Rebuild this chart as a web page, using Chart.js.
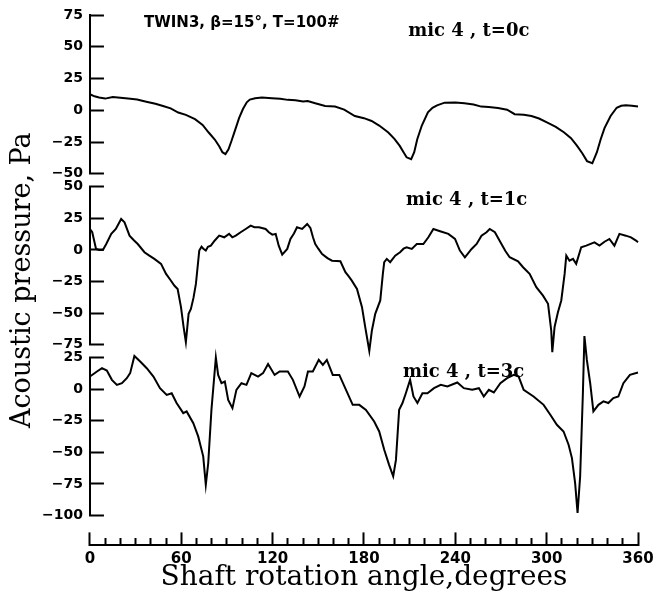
<!DOCTYPE html>
<html>
<head>
<meta charset="utf-8">
<script src="https://cdn.jsdelivr.net/npm/chart.js@4.4.1/dist/chart.umd.min.js"></script>
<style>
    html, body { margin: 0; padding: 0; background: #fff; }
    #wrap { width: 654px; height: 604px; }
</style>
</head>
<body>
<div id="wrap"><canvas id="charts"></canvas></div>
<script>
// mic 4, t=0c
const angle0 = [0, 3, 6, 10, 15, 20, 25, 31, 37, 43, 48, 53, 58, 63, 69, 74, 78, 82, 85, 87, 89, 91, 93, 95.5, 98, 100.5, 103, 105, 108.5, 113, 119.5, 125, 130, 135, 140, 143, 148, 154.5, 161, 167, 174, 180, 185, 190, 196, 200, 203.5, 206, 208, 211, 213, 215, 218, 222, 225, 228, 233, 240, 246, 252, 257, 262, 268, 274, 279, 285, 290, 295, 300.5, 306, 311.5, 316, 320, 323.5, 326.5, 330, 333, 335.5, 338, 342, 346, 349, 352, 356, 360];
const pressure0 = [12.6, 11, 10, 9.2, 10.5, 9.8, 9.2, 8.5, 6.8, 5.2, 3.4, 1.5, -1.8, -3.6, -7, -11.5, -17.5, -23, -28.5, -33, -34.5, -30.7, -24, -15, -6, 1, 6.3, 8.4, 9.4, 10, 9.4, 9, 8.2, 7.9, 7, 7.3, 5.5, 3.4, 2.9, 0.5, -4.5, -6.2, -8.4, -12, -17.5, -22.5, -28, -33, -37, -38.5, -33, -22.8, -12, -1.6, 2, 3.9, 6, 6.2, 5.5, 4.5, 2.9, 2.5, 1.8, 0.5, -3.1, -3.5, -4.5, -6.5, -9.7, -13, -17.5, -22, -28, -34, -40, -41.7, -33, -22.8, -14, -4.5, 2, 3.5, 3.9, 3.5, 2.9];

// mic 4, t=1c
const angle1 = [0, 1.5, 4, 6, 8.5, 10.7, 14, 17, 20.5, 22.7, 26, 29, 31.4, 35.8, 39, 42.3, 46.7, 50, 53, 55.4, 57.6, 59.8, 61.5, 63, 64.8, 66.3, 68, 69.6, 71.8, 73.3, 74.5, 76.1, 77.5, 79.4, 82, 84.9, 88.2, 91.4, 93.5, 95.8, 99, 102.3, 105.6, 108, 111, 115.4, 117.5, 119.8, 122, 124, 126.3, 129.6, 131.7, 134, 136, 139.4, 142.7, 144.8, 146.5, 148, 150, 152.5, 156, 159, 162, 164.5, 167.8, 170, 172, 175.4, 178.7, 180.8, 183.5, 185.2, 187.4, 190.7, 192.4, 193.3, 195, 197.2, 200.5, 203.7, 206, 208, 211.4, 214.7, 219, 222.3, 225.6, 230, 235.4, 239.8, 243, 246.3, 250.7, 254, 257.2, 260.5, 262.6, 266, 270.3, 273, 275.7, 281.2, 284.5, 288.8, 293.2, 297.6, 300.9, 303, 303.7, 305.2, 307.4, 309.6, 311.8, 312.9, 315, 317.3, 319.4, 322.7, 326, 331.4, 334.7, 338, 341.2, 344.5, 347.8, 352, 355.4, 358.7, 360];
const pressure1 = [16.6, 14, 0.8, 0, 0, 4.7, 12.7, 16.6, 24.5, 21.9, 11.3, 7.5, 4.7, -1.8, -4.5, -7.1, -11, -19, -24, -28.2, -30.9, -45.3, -61, -73, -50.6, -46.7, -38, -26.9, -0.5, 2.6, 1, -0.5, 2.5, 3.4, 7.5, 11.3, 10, 12.7, 10, 11.3, 14, 16.6, 19.2, 18, 17.9, 16.6, 14, 12.1, 12.7, 3.4, -3.7, 0.8, 8.7, 13, 17.9, 16.6, 20.6, 17.4, 10, 4.7, 1, -3.2, -6.5, -8.5, -8.8, -9, -17.6, -21, -24.3, -30.9, -45.3, -61, -80, -63.8, -50.6, -40, -19, -9.7, -7.1, -9.7, -4.5, -1.8, 1, 2.1, 0.8, 4.7, 4.7, 10, 16.6, 14.8, 12.7, 8.7, -0.5, -5.8, 0.8, 4.7, 11.3, 14, 16.6, 14, 4.7, -1, -5.8, -9, -13.7, -19, -29.5, -36.2, -42.7, -63.8, -81, -61, -49.3, -40, -19, -4.5, -8.5, -7.1, -11, 2.1, 3.4, 6, 3.4, 6.5, 8.7, 3.4, 12.7, 11.3, 10, 7.4, 6];

// mic 4, t=3c
const angle3 = [0, 4.6, 7.9, 11.1, 14.4, 17.7, 21, 24.2, 26.4, 29.2, 33, 37.3, 41.7, 46, 50.4, 53.7, 56.9, 61.3, 63.5, 67.9, 71.1, 74.4, 76.1, 77.7, 79.8, 82.7, 84.2, 86.4, 88.6, 90.8, 93.6, 96.2, 99.5, 102.8, 106, 110.4, 113.7, 117, 121.3, 124.6, 130, 133.3, 137.7, 140.9, 143.2, 146.4, 150.3, 153, 155.6, 159.5, 163.8, 168.2, 172.6, 176.9, 181.3, 186.7, 190, 193.3, 196.5, 199.2, 201, 203.1, 205.3, 207.5, 210.3, 212.5, 215.1, 218.4, 221.7, 226, 230.4, 234.8, 241.3, 245.6, 251.1, 255.5, 258.7, 262, 265.3, 269.6, 274, 278.4, 281.6, 284.9, 291.4, 298, 302.4, 306.7, 311.1, 314.4, 316.6, 318.7, 320.3, 322, 323.8, 324.8, 326.4, 328.6, 330.7, 334, 337.3, 340.5, 343.8, 347.1, 350.4, 354.7, 360];
const pressure3 = [10, 14, 16.6, 14.8, 7.4, 3.4, 4.7, 8.7, 12.7, 26.3, 21.9, 16.6, 10, 0.8, -4.5, -3.2, -11, -19, -17.6, -26.9, -37.4, -53.2, -75.7, -58.5, -16.4, 25, 11.3, 4.7, 6, -8.5, -15, -0.5, 4.7, 3.4, 12.7, 10, 12.7, 20, 11.3, 14, 14, 7.4, -5.8, 2.1, 14, 14, 23.2, 19.2, 23.2, 11.3, 11.3, -0.5, -12.4, -12.4, -16.4, -25.6, -33.5, -48, -59.9, -69, -56, -16.4, -11, -3.2, 7.4, -5.8, -11, -3.2, -3.2, 0.8, 3.4, 2.1, 5.3, 0.8, -0.5, 0.8, -5.8, -0.5, -2.6, 4.7, 8.7, 11.3, 10, -0.5, -5.8, -12.4, -20.3, -28.2, -33.5, -44, -54.6, -74.4, -98, -69, -3.2, 42, 23.2, 4.7, -17.6, -12.4, -9.7, -11, -7.1, -5.8, 4.7, 11.3, 13.2];

const xMajorTicks = [0, 60, 120, 180, 240, 300, 360];
const runLabel = 'TWIN3, \u03b2=15\u00b0, T=100#';
const micLabels = ['mic 4 , t=0c', 'mic 4 , t=1c', 'mic 4 , t=3c'];

const toPoints = (xs, ys) => xs.map((x, i) => ({ x: x, y: ys[i] }));
const minus = (v) => String(v).replace('-', '\u2212');

const panelAxis = (min, max, weight, stackWeight) => ({
    type: 'linear',
    position: 'left',
    stack: 'panels',
    stackWeight: stackWeight,
    weight: weight,
    min: min,
    max: max,
    border: { display: true, color: '#000', width: 2 },
    grid: { display: true, drawOnChartArea: false, drawTicks: true, tickLength: -14, tickWidth: 2, tickColor: '#000' },
    ticks: {
        stepSize: 25, autoSkip: false, padding: 21, color: '#000',
        font: { family: "'DejaVu Sans'", weight: 'bold', size: 14 },
        callback: minus
    },
    // the tick padding would otherwise be pushed into the chart margins
    afterFit: (s) => { s.paddingTop = 0; s.paddingBottom = 0; }
});
const gapAxis = (weight, stackWeight) => ({
    type: 'linear', position: 'left', stack: 'panels',
    stackWeight: stackWeight, weight: weight, display: false
});

const panelText = {
    id: 'panelText',
    afterDatasetsDraw(chart) {
        const { ctx, scales } = chart;
        ctx.save();
        ctx.fillStyle = '#000';
        ctx.textBaseline = 'middle';
        ctx.textAlign = 'left';
        ctx.font = "bold 15px 'DejaVu Sans'";
        ctx.fillText(runLabel, scales.x.getPixelForValue(35.5), scales.y0.getPixelForValue(68.7));
        ctx.font = "bold 18px 'DejaVu Serif'";
        ctx.fillText(micLabels[0], scales.x.getPixelForValue(209), scales.y0.getPixelForValue(62.4));
        ctx.fillText(micLabels[1], scales.x.getPixelForValue(207.6), scales.y1.getPixelForValue(38.9));
        ctx.fillText(micLabels[2], scales.x.getPixelForValue(205.6), scales.y3.getPixelForValue(13.1));
        ctx.restore();
    }
};

const line = (label, xs, ys, axisId) => ({
    label: label,
    data: toPoints(xs, ys),
    yAxisID: axisId,
    borderColor: '#000',
    borderWidth: 2,
    pointRadius: 0,
    fill: false,
    tension: 0,
    clip: false
});

const config = {
    type: 'line',
    data: {
        datasets: [
            line(micLabels[0], angle0, pressure0, 'y0'),
            line(micLabels[1], angle1, pressure1, 'y1'),
            line(micLabels[2], angle3, pressure3, 'y3')
        ]
    },
    options: {
        responsive: true,
        maintainAspectRatio: false,
        animation: false,
        devicePixelRatio: 1,
        layout: { padding: { top: 15, left: 0, right: 16, bottom: 0 } },
        plugins: { legend: { display: false }, tooltip: { enabled: false } },
        scales: {
            x: {
                type: 'linear',
                position: 'bottom',
                min: 0,
                max: 360,
                border: { display: true, color: '#000', width: 2 },
                grid: {
                    display: true, drawOnChartArea: false, drawTicks: true,
                    tickLength: -13, tickWidth: 2, tickColor: '#000',
                    tickBorderDash: (c) => (c.tick && !xMajorTicks.includes(c.tick.value)) ? [8, 40] : []
                },
                ticks: {
                    stepSize: 10, autoSkip: false, maxRotation: 0, padding: 18, color: '#000',
                    font: { family: "'DejaVu Sans'", weight: 'bold', size: 15 },
                    callback: (v) => xMajorTicks.includes(v) ? String(v) : ''
                },
                title: {
                    display: true,
                    text: 'Shaft rotation angle,degrees',
                    color: '#000',
                    font: { family: "'DejaVu Serif'", size: 28 },
                    padding: { top: -25, bottom: 9 }
                },
                afterFit: (s) => { s.paddingLeft = 0; s.paddingRight = 0; }
            },
            yt: {
                type: 'linear',
                position: 'left',
                weight: 10,
                border: { display: false },
                grid: { display: false, drawTicks: false },
                ticks: { display: false },
                title: {
                    display: true,
                    text: 'Acoustic pressure, Pa',
                    color: '#000',
                    font: { family: "'DejaVu Serif'", size: 27 },
                    padding: { top: 7, bottom: -18.4 }
                }
            },
            y0: panelAxis(-50, 75, 6, 159),
            g1: gapAxis(5, 13),
            y1: panelAxis(-75, 50, 4, 158),
            g2: gapAxis(3, 13),
            y3: panelAxis(-100, 25, 2, 158),
            g3: gapAxis(1, 30)
        }
    },
    plugins: [panelText]
};

const ctx = document.getElementById('charts');
const myChart = new Chart(ctx, config);
</script>
</body>
</html>
